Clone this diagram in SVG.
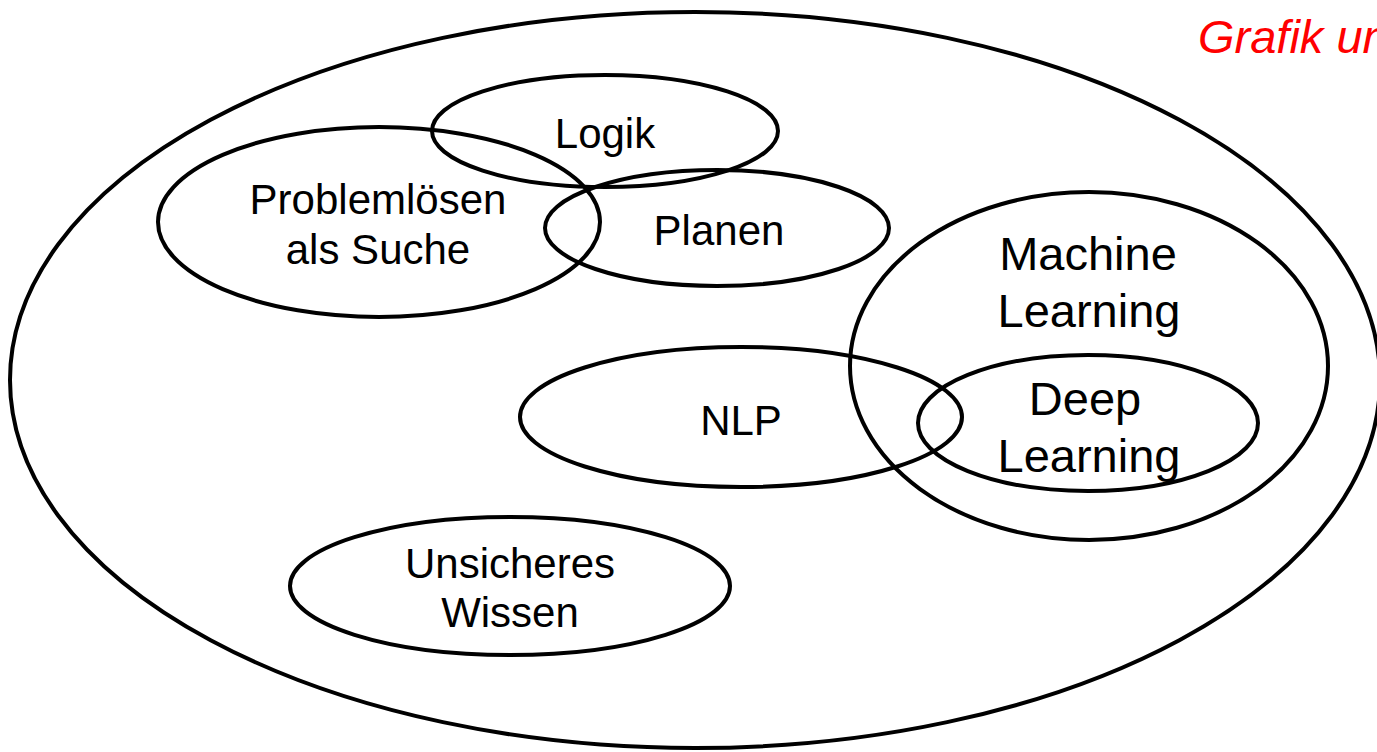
<svg xmlns="http://www.w3.org/2000/svg" width="1377" height="752" viewBox="0 0 1377 752">
  <style>
    .area { fill: none; stroke: #000; stroke-width: 4; }
    .lbl { font-family: "Liberation Sans", Arial, sans-serif; font-size: 42px; fill: #000; text-anchor: middle; }
    .big { font-size: 47px; }
    .note { font-family: "Liberation Sans", Arial, sans-serif; font-size: 47px; font-style: italic; fill: #ff0000; }
  </style>
  <rect width="1377" height="752" fill="#fff"/>

  <!-- overall field of AI -->
  <g id="ki">
    <ellipse class="area" cx="695" cy="380" rx="685" ry="368"/>
  </g>

  <g id="logik">
    <ellipse class="area" cx="605" cy="131" rx="173" ry="56"/>
    <text class="lbl" x="605" y="148">Logik</text>
  </g>

  <g id="problemloesen">
    <ellipse class="area" cx="379" cy="222" rx="221" ry="95"/>
    <text class="lbl" x="378" y="214">Problemlösen</text>
    <text class="lbl" x="378" y="264">als Suche</text>
  </g>

  <g id="planen">
    <ellipse class="area" cx="717" cy="228" rx="172" ry="58"/>
    <text class="lbl" x="719" y="245">Planen</text>
  </g>

  <g id="machine-learning">
    <ellipse class="area" cx="1089" cy="366" rx="239" ry="174"/>
    <text class="lbl big" x="1088" y="270">Machine</text>
    <text class="lbl big" x="1089" y="327">Learning</text>
  </g>

  <g id="nlp">
    <ellipse class="area" cx="741" cy="417" rx="221" ry="70"/>
    <text class="lbl" x="741" y="435">NLP</text>
  </g>

  <g id="deep-learning">
    <ellipse class="area" cx="1088" cy="423" rx="170" ry="68"/>
    <text class="lbl big" x="1085" y="415">Deep</text>
    <text class="lbl big" x="1089" y="472">Learning</text>
  </g>

  <g id="unsicheres-wissen">
    <ellipse class="area" cx="510" cy="586" rx="220" ry="69"/>
    <text class="lbl" x="510" y="578">Unsicheres</text>
    <text class="lbl" x="510" y="627">Wissen</text>
  </g>

  <g id="connectors"/>

  <!-- caption runs past the right edge of the canvas -->
  <text class="note" x="1198" y="53">Grafik un</text>
</svg>
